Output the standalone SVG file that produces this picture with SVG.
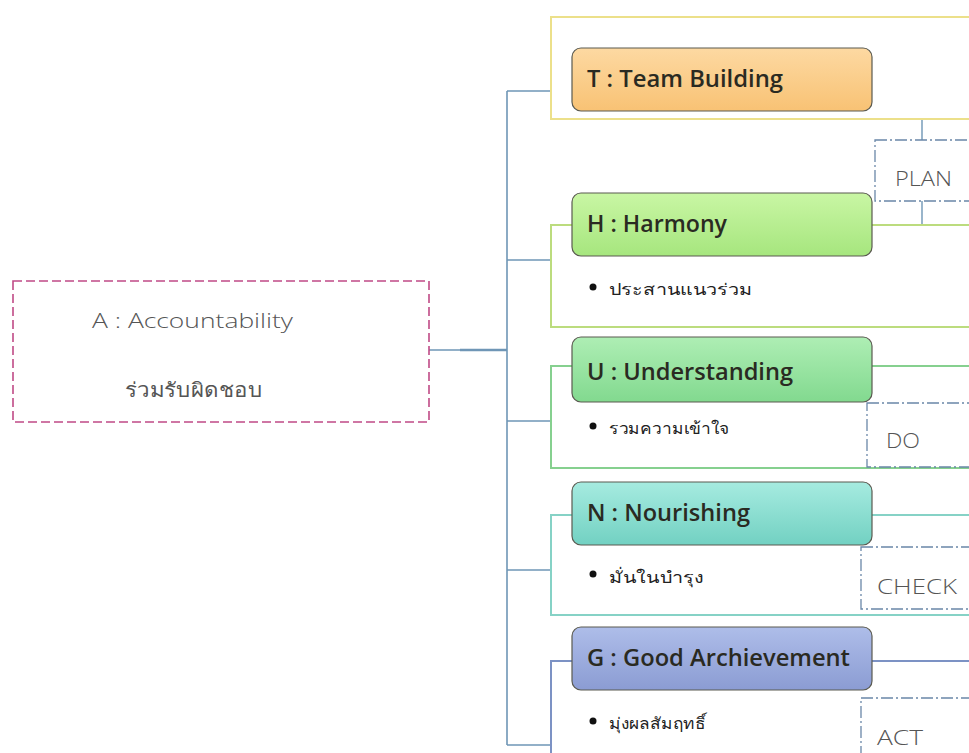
<svg xmlns="http://www.w3.org/2000/svg" width="969" height="753" viewBox="0 0 969 753">
<defs>
<linearGradient id="gT" x1="0" y1="0" x2="0" y2="1"><stop offset="0" stop-color="#fdd9a2"/><stop offset="1" stop-color="#f8c274"/></linearGradient>
<linearGradient id="gH" x1="0" y1="0" x2="0" y2="1"><stop offset="0" stop-color="#c9f6a4"/><stop offset="1" stop-color="#a6e67e"/></linearGradient>
<linearGradient id="gU" x1="0" y1="0" x2="0" y2="1"><stop offset="0" stop-color="#aeeeb4"/><stop offset="1" stop-color="#82d98f"/></linearGradient>
<linearGradient id="gN" x1="0" y1="0" x2="0" y2="1"><stop offset="0" stop-color="#a6ebe0"/><stop offset="1" stop-color="#72d1c2"/></linearGradient>
<linearGradient id="gG" x1="0" y1="0" x2="0" y2="1"><stop offset="0" stop-color="#aebde9"/><stop offset="1" stop-color="#8b9cd3"/></linearGradient>
</defs>
<style>
.hdr{stroke:#5a5a50;stroke-width:1.2}
.ht{font-family:"Open Sans","Liberation Sans",sans-serif;font-weight:600;font-size:23.5px;fill:#2a2a22}
.bt{font-family:"Noto Sans","DejaVu Sans","Liberation Sans",sans-serif;font-size:16px;fill:#222}
.pd{fill:#fff;stroke:#6a87a8;stroke-width:1.3;stroke-dasharray:12 3 2 3}
.pt{font-family:"Open Sans","Liberation Sans",sans-serif;font-size:21px;font-weight:300;fill:#555}
.cn{fill:none;stroke:#6f96b6;stroke-width:1.6}
</style>
<rect width="969" height="753" fill="#ffffff"/>

<g id="connectors">
<path class="cn" d="M429 350 H507 M507 91 V745 M507 91 H551 M507 260 H551 M507 421 H551 M507 570 H551 M507 745 H551"/>
<path d="M460 350 H507" stroke="#6f96b6" stroke-width="2.4" fill="none"/>
<path d="M922 119 V140 M922 201 V225" stroke="#6f96b6" stroke-width="1.4" fill="none"/>
</g>

<g id="A">
<rect x="13" y="281" width="416" height="141" fill="#fff" stroke="#c04a86" stroke-width="1.6" stroke-dasharray="9 4"/>
<text x="92" y="328" textLength="201" lengthAdjust="spacingAndGlyphs" font-family="Open Sans, Liberation Sans, sans-serif" font-size="21" fill="#555" font-weight="300">A : Accountability</text>
<text x="125" y="397" textLength="137" lengthAdjust="spacingAndGlyphs" font-family="Noto Sans, DejaVu Sans, sans-serif" font-size="20" fill="#555">ร่วมรับผิดชอบ</text>
</g>

<g id="T">
<path d="M969 17 H551 V119 H969" fill="none" stroke="#ece08a" stroke-width="2"/>
<rect class="hdr" x="572" y="48" width="300" height="63" rx="9" fill="url(#gT)"/>
<text class="ht" x="587" y="87" textLength="196" lengthAdjust="spacingAndGlyphs">T : Team Building</text>
</g>

<g id="PLAN">
<rect class="pd" x="875" y="140" width="110" height="61"/>
<text class="pt" x="895" y="186" textLength="57" lengthAdjust="spacingAndGlyphs">PLAN</text>
</g>

<g id="H">
<path d="M969 225 H551 V327 H969" fill="none" stroke="#bcdc7e" stroke-width="2"/>
<rect class="hdr" x="572" y="193" width="300" height="63" rx="9" fill="url(#gH)"/>
<text class="ht" x="587" y="232" textLength="140" lengthAdjust="spacingAndGlyphs">H : Harmony</text>
<circle cx="593" cy="287" r="3.5" fill="#111"/>
<text class="bt" x="609" y="295" textLength="144" lengthAdjust="spacingAndGlyphs">ประสานแนวร่วม</text>
</g>

<g id="U">
<path d="M969 366 H551 V468 H969" fill="none" stroke="#86d08f" stroke-width="2"/>
<rect class="hdr" x="572" y="337" width="300" height="65" rx="9" fill="url(#gU)"/>
<text class="ht" x="587" y="380" font-size="26" textLength="206" lengthAdjust="spacingAndGlyphs">U : Understanding</text>
<circle cx="593" cy="426" r="3.5" fill="#111"/>
<text class="bt" x="609" y="434" textLength="120" lengthAdjust="spacingAndGlyphs">รวมความเข้าใจ</text>
</g>

<g id="DO">
<rect class="pd" x="867" y="403" width="120" height="64"/>
<text class="pt" x="886" y="448" textLength="34" lengthAdjust="spacingAndGlyphs">DO</text>
</g>

<g id="N">
<path d="M969 515 H551 V615 H969" fill="none" stroke="#86d2c6" stroke-width="2"/>
<rect class="hdr" x="572" y="482" width="300" height="63" rx="9" fill="url(#gN)"/>
<text class="ht" x="587" y="521" textLength="163" lengthAdjust="spacingAndGlyphs">N : Nourishing</text>
<circle cx="593" cy="574" r="3.5" fill="#111"/>
<text class="bt" x="609" y="583" textLength="95" lengthAdjust="spacingAndGlyphs">มั่นในบำรุง</text>
</g>

<g id="CHECK">
<rect class="pd" x="861" y="547" width="120" height="62"/>
<text class="pt" x="877" y="594" textLength="80" lengthAdjust="spacingAndGlyphs">CHECK</text>
</g>

<g id="G">
<path d="M969 661 H551 V760" fill="none" stroke="#7c92c4" stroke-width="2"/>
<rect class="hdr" x="572" y="627" width="300" height="63" rx="9" fill="url(#gG)"/>
<text class="ht" x="587" y="666" textLength="263" lengthAdjust="spacingAndGlyphs">G : Good Archievement</text>
<circle cx="593" cy="721" r="3.5" fill="#111"/>
<text class="bt" x="609" y="729" textLength="97" lengthAdjust="spacingAndGlyphs">มุ่งผลสัมฤทธิ์</text>
</g>

<g id="ACT">
<rect class="pd" x="861" y="698" width="120" height="70"/>
<text class="pt" x="877" y="745" textLength="46" lengthAdjust="spacingAndGlyphs">ACT</text>
</g>
</svg>
